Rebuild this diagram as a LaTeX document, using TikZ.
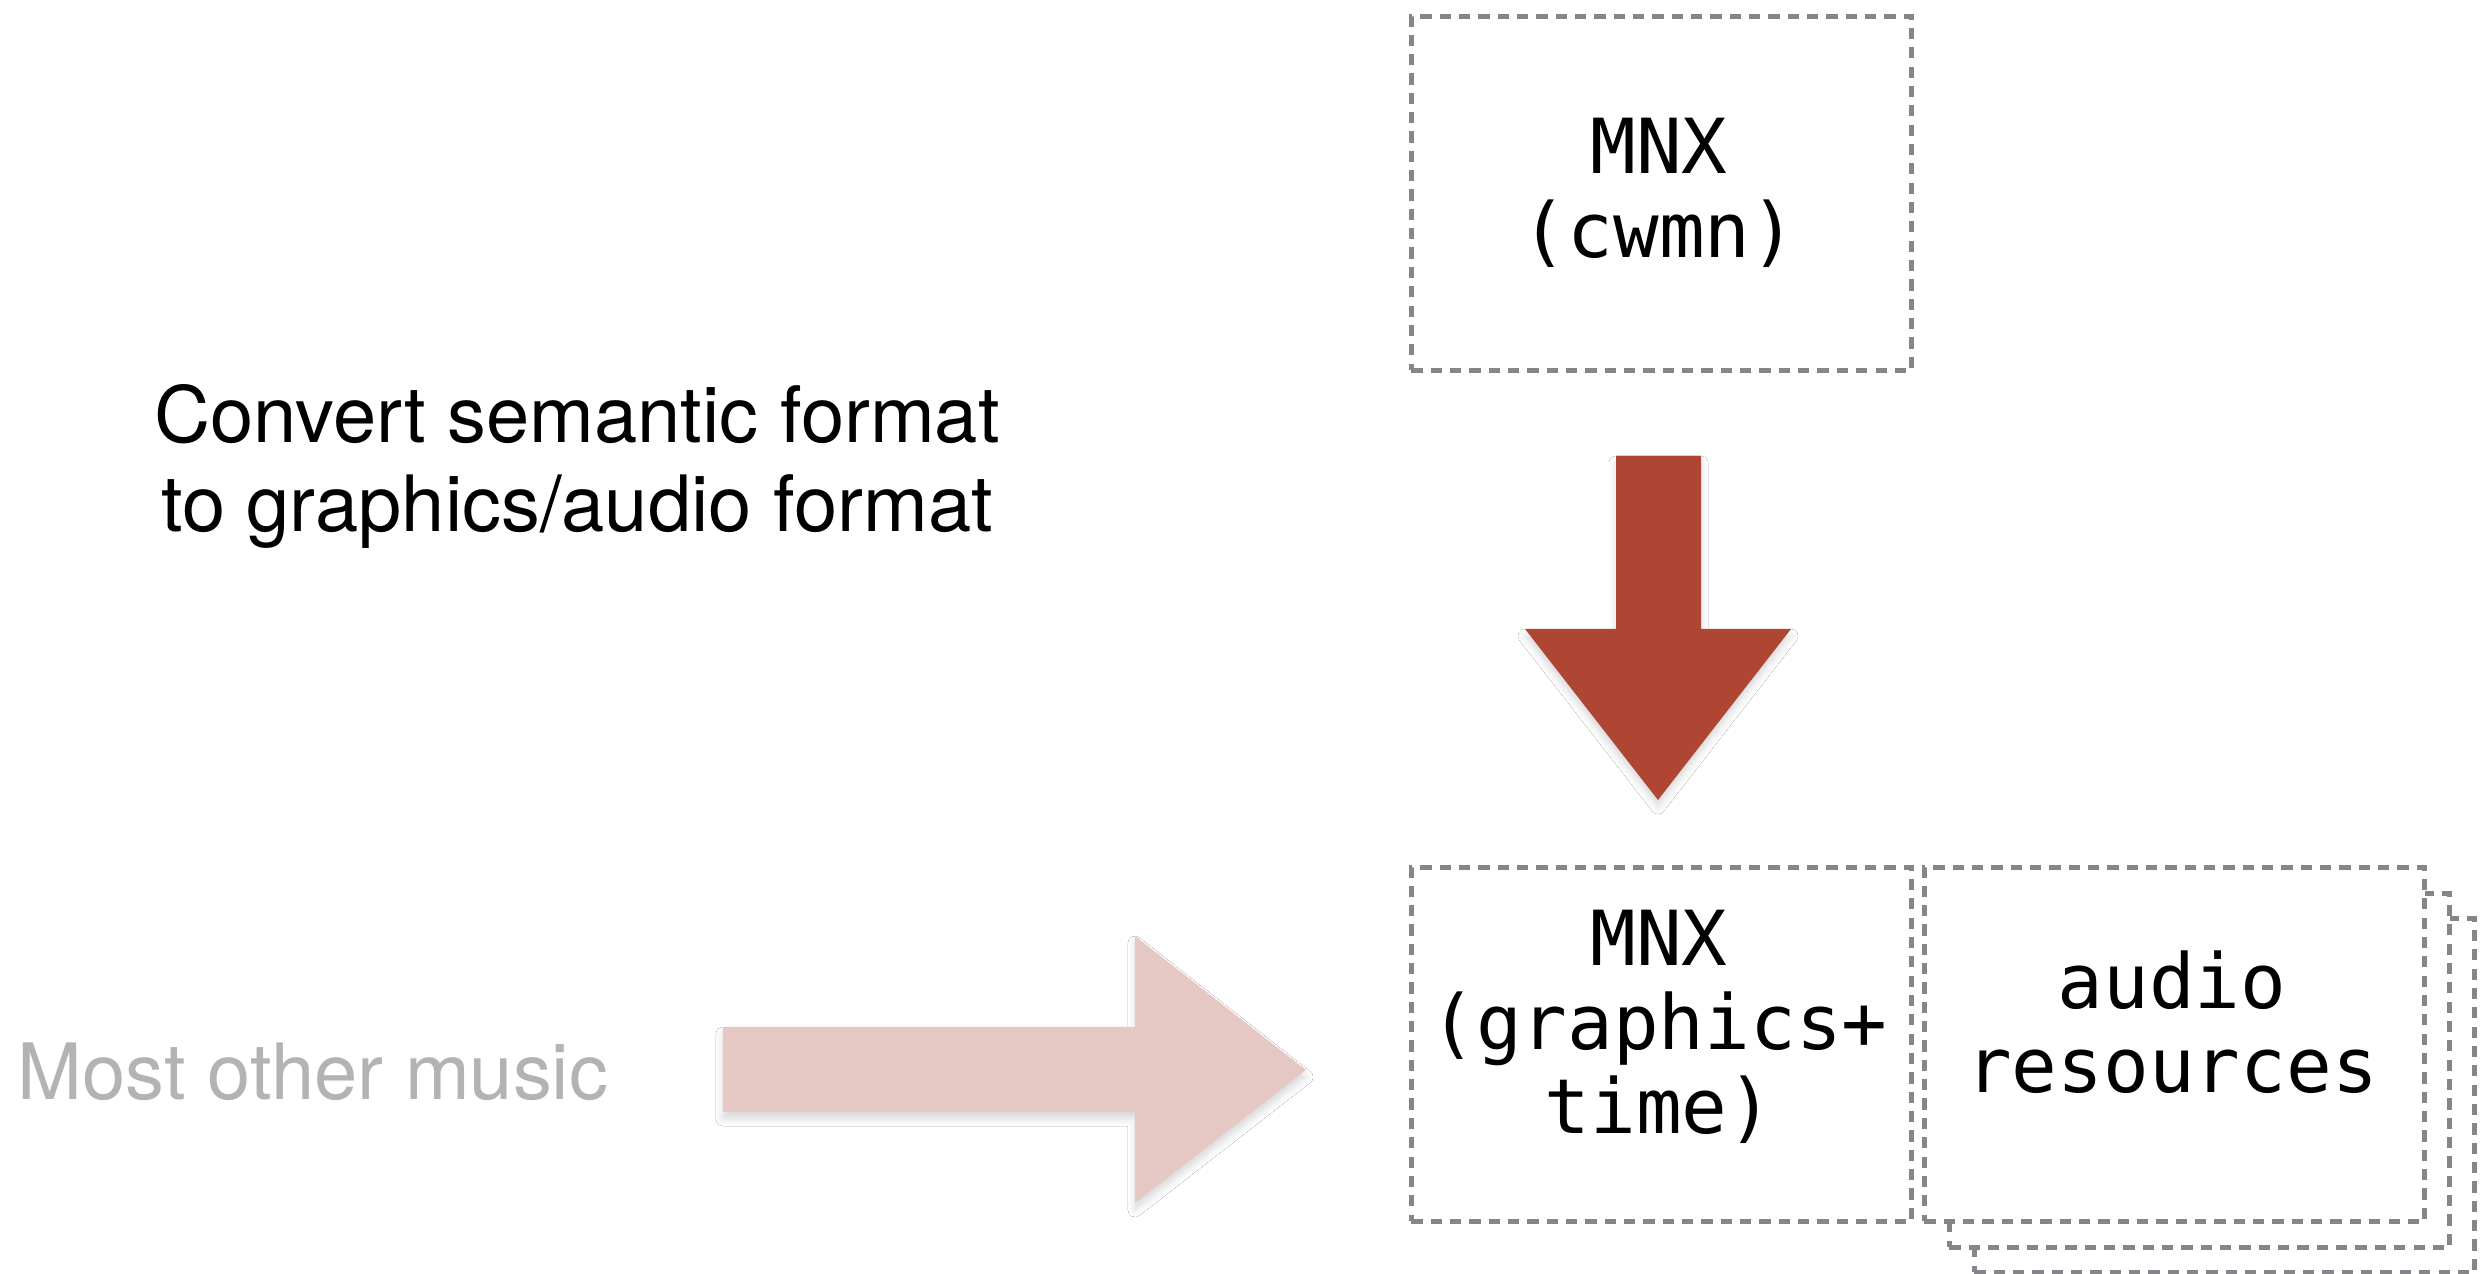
\documentclass[tikz,border=0pt]{standalone}
\usepackage{fontspec}
\setmainfont{TeX Gyre Heros}
\newfontfamily\monof{DejaVu Sans Mono}
\usetikzlibrary{shadows.blur}
\definecolor{dashgray}{HTML}{85868A}
\definecolor{arrowred}{HTML}{AF4634}
\definecolor{arrowpink}{HTML}{E5C8C3}
\definecolor{textgray}{HTML}{B3B3B3}
\tikzset{
  dbox/.style={draw=dashgray, line width=1.3pt, dash pattern=on 3.2pt off 2.3pt, fill=white,
    minimum width=5cm, minimum height=3.54cm, inner sep=0pt, anchor=north west},
  monotext/.style={font=\monof\fontsize{21.6pt}{24pt}\selectfont, anchor=base, inner sep=0pt},
  sanstext/.style={font=\fontsize{22.1pt}{25.3pt}\selectfont, anchor=base, inner sep=0pt},
  arrshadow/.style={blur shadow={shadow xshift=0pt, shadow yshift=-2pt, shadow blur radius=2pt, shadow blur steps=5, shadow opacity=15}}
}
\begin{document}
\begin{tikzpicture}[x=0.01cm,y=-0.01cm]
\useasboundingbox (0,0) rectangle (2481,1274);
\fill[white] (0,0) rectangle (2481,1274);

% dashed boxes
\node[dbox] (top) at (1409,14) {};
\node[dbox] (stack3) at (1972,916) {};
\node[dbox] (stack2) at (1947,891) {};
\node[dbox] (audio) at (1922,865) {};
\node[dbox] (bottom) at (1409,865) {};

% box texts
\node[monotext] (t1) at (1659,174) {MNX};
\node[monotext] (t2) at (1659,258) {(cwmn)};
\node[monotext] (b1) at (1659,966) {MNX};
\node[monotext] (b2) at (1659,1050) {(graphics+};
\node[monotext] (b3) at (1659,1134) {time)};
\node[monotext] (a1) at (2172,1009) {audio};
\node[monotext] (a2) at (2172,1093) {resources};

% left texts
\node[sanstext] (c1) at (577,443) {Convert semantic format};
\node[sanstext] (c2) at (577,532) {to graphics/audio format};
\node[sanstext, text=textgray] (m1) at (313,1100) {Most other music};

% red down arrow
\fill[arrowred, arrshadow] (1616,456) -- (1701,456) -- (1701,629) -- (1791,629)
  -- (1658,800) -- (1525,629) -- (1616,629) -- cycle;

% pink right arrow
\fill[arrowpink, arrshadow] (723,1027) -- (1135,1027) -- (1135,936) -- (1306,1070)
  -- (1135,1203) -- (1135,1112) -- (723,1112) -- cycle;
\end{tikzpicture}
\end{document}
